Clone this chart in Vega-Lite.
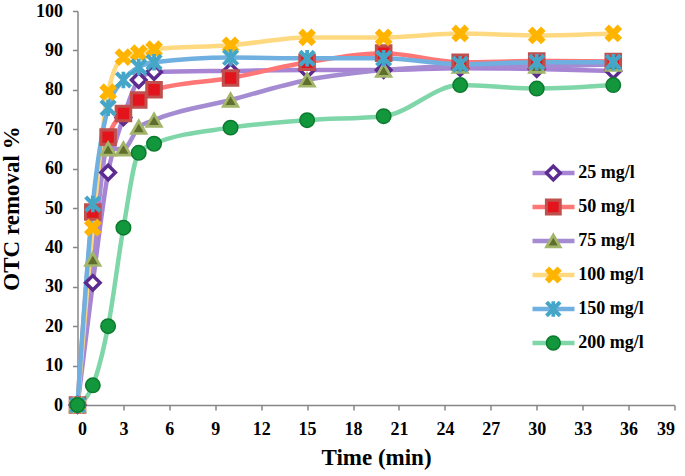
{
  "$schema": "https://vega.github.io/schema/vega-lite/v6.json",
  "width": 597,
  "height": 394,
  "autosize": {"type": "none"},
  "padding": {"left": 77.5, "top": 11, "right": 10.5, "bottom": 71},
  "background": "white",
  "config": {
    "view": {"stroke": null},
    "font": "Liberation Serif",
    "axis": {
      "labelFont": "Liberation Serif",
      "labelFontWeight": "bold",
      "labelFontSize": 18,
      "labelColor": "black",
      "titleFont": "Liberation Serif",
      "titleFontWeight": "bold",
      "titleFontSize": 23,
      "titleColor": "black",
      "grid": false,
      "domainColor": "#868686",
      "domainWidth": 1.5,
      "tickColor": "#868686",
      "tickWidth": 1.5,
      "tickSize": 5
    },
    "legend": {
      "labelFont": "Liberation Serif",
      "labelFontWeight": "bold",
      "labelFontSize": 18,
      "labelColor": "black"
    }
  },
  "data": {
    "values": [
      {"s": "25 mg/l", "t": 0, "v": 0}, {"s": "25 mg/l", "t": 1, "v": 31}, {"s": "25 mg/l", "t": 2, "v": 59}, {"s": "25 mg/l", "t": 3, "v": 73}, {"s": "25 mg/l", "t": 4, "v": 82.5}, {"s": "25 mg/l", "t": 5, "v": 84.5}, {"s": "25 mg/l", "t": 10, "v": 84.8}, {"s": "25 mg/l", "t": 15, "v": 85}, {"s": "25 mg/l", "t": 20, "v": 85}, {"s": "25 mg/l", "t": 25, "v": 85.5}, {"s": "25 mg/l", "t": 30, "v": 85.3}, {"s": "25 mg/l", "t": 35, "v": 84.8},
      {"s": "50 mg/l", "t": 0, "v": 0}, {"s": "50 mg/l", "t": 1, "v": 49}, {"s": "50 mg/l", "t": 2, "v": 68}, {"s": "50 mg/l", "t": 3, "v": 74}, {"s": "50 mg/l", "t": 4, "v": 77.4}, {"s": "50 mg/l", "t": 5, "v": 80}, {"s": "50 mg/l", "t": 10, "v": 83}, {"s": "50 mg/l", "t": 15, "v": 87}, {"s": "50 mg/l", "t": 20, "v": 89.3}, {"s": "50 mg/l", "t": 25, "v": 87}, {"s": "50 mg/l", "t": 30, "v": 87.3}, {"s": "50 mg/l", "t": 35, "v": 87.2},
      {"s": "75 mg/l", "t": 0, "v": 0}, {"s": "75 mg/l", "t": 1, "v": 37}, {"s": "75 mg/l", "t": 2, "v": 65}, {"s": "75 mg/l", "t": 3, "v": 65}, {"s": "75 mg/l", "t": 4, "v": 70.5}, {"s": "75 mg/l", "t": 5, "v": 72.3}, {"s": "75 mg/l", "t": 10, "v": 77.4}, {"s": "75 mg/l", "t": 15, "v": 82.5}, {"s": "75 mg/l", "t": 20, "v": 85}, {"s": "75 mg/l", "t": 25, "v": 86}, {"s": "75 mg/l", "t": 30, "v": 86}, {"s": "75 mg/l", "t": 35, "v": 86.5},
      {"s": "100 mg/l", "t": 0, "v": 0}, {"s": "100 mg/l", "t": 1, "v": 45}, {"s": "100 mg/l", "t": 2, "v": 79.4}, {"s": "100 mg/l", "t": 3, "v": 88.3}, {"s": "100 mg/l", "t": 4, "v": 89.3}, {"s": "100 mg/l", "t": 5, "v": 90.3}, {"s": "100 mg/l", "t": 10, "v": 91.3}, {"s": "100 mg/l", "t": 15, "v": 93.3}, {"s": "100 mg/l", "t": 20, "v": 93.3}, {"s": "100 mg/l", "t": 25, "v": 94.3}, {"s": "100 mg/l", "t": 30, "v": 93.8}, {"s": "100 mg/l", "t": 35, "v": 94.3},
      {"s": "150 mg/l", "t": 0, "v": 0}, {"s": "150 mg/l", "t": 1, "v": 51}, {"s": "150 mg/l", "t": 2, "v": 75.4}, {"s": "150 mg/l", "t": 3, "v": 82.5}, {"s": "150 mg/l", "t": 4, "v": 85.8}, {"s": "150 mg/l", "t": 5, "v": 87}, {"s": "150 mg/l", "t": 10, "v": 88.2}, {"s": "150 mg/l", "t": 15, "v": 88}, {"s": "150 mg/l", "t": 20, "v": 88}, {"s": "150 mg/l", "t": 25, "v": 86.5}, {"s": "150 mg/l", "t": 30, "v": 87}, {"s": "150 mg/l", "t": 35, "v": 87},
      {"s": "200 mg/l", "t": 0, "v": 0}, {"s": "200 mg/l", "t": 1, "v": 5}, {"s": "200 mg/l", "t": 2, "v": 20}, {"s": "200 mg/l", "t": 3, "v": 45}, {"s": "200 mg/l", "t": 4, "v": 64}, {"s": "200 mg/l", "t": 5, "v": 66.3}, {"s": "200 mg/l", "t": 10, "v": 70.4}, {"s": "200 mg/l", "t": 15, "v": 72.3}, {"s": "200 mg/l", "t": 20, "v": 73.3}, {"s": "200 mg/l", "t": 25, "v": 81.2}, {"s": "200 mg/l", "t": 30, "v": 80.3}, {"s": "200 mg/l", "t": 35, "v": 81.2}
    ]
  },
  "encoding": {
    "x": {
      "field": "t", "type": "quantitative",
      "scale": {"domain": [0, 39], "nice": false, "zero": true},
      "axis": {"values": [0, 3, 6, 9, 12, 15, 18, 21, 24, 27, 30, 33, 36, 39], "title": "Time (min)", "labelPadding": 10, "titlePadding": 8}
    },
    "y": {
      "field": "v", "type": "quantitative",
      "scale": {"domain": [0, 100], "nice": false},
      "axis": {"values": [0, 10, 20, 30, 40, 50, 60, 70, 80, 90, 100], "title": "OTC removal %", "labelPadding": 10, "titlePadding": 12}
    }
  },
  "layer": [
    {
      "mark": {"type": "line", "interpolate": "monotone", "strokeWidth": 4.5, "strokeCap": "round"},
      "encoding": {
        "color": {
          "field": "s", "type": "nominal",
          "sort": ["25 mg/l", "50 mg/l", "75 mg/l", "100 mg/l", "150 mg/l", "200 mg/l"],
          "scale": {"range": ["#a784d4", "#ff7676", "#a58cd2", "#ffd97f", "#6fb0e0", "#7fd6a8"]},
          "legend": {"title": null, "orient": "none", "legendX": 452.5, "legendY": 145, "padding": 0, "symbolType": "stroke", "symbolSize": 1764, "symbolStrokeWidth": 4.5, "clipHeight": 34, "rowPadding": 0, "labelExpr": "''"}
        }
      }
    },
    {
      "mark": {"type": "point", "filled": true, "size": 210, "opacity": 1},
      "encoding": {
        "shape": {
          "field": "s", "type": "nominal",
          "scale": {"domain": ["25 mg/l", "50 mg/l", "75 mg/l", "100 mg/l", "150 mg/l", "200 mg/l"], "range": ["diamond", "square", "triangle-up", "M-1,-0.6L-0.6,-1L0,-0.4L0.6,-1L1,-0.6L0.4,0L1,0.6L0.6,1L0,0.4L-0.6,1L-1,0.6L-0.4,0Z", "M-1,-0.78L-0.78,-1L0,-0.22L0.78,-1L1,-0.78L0.22,0L1,0.78L0.78,1L0,0.22L-0.78,1L-1,0.78L-0.22,0ZM-0.13,-1L0.13,-1L0.13,1L-0.13,1Z", "circle"]},
          "legend": {"title": null, "orient": "none", "legendX": 466.8, "legendY": 145, "padding": 0, "symbolSize": 190, "clipHeight": 34, "rowPadding": 0, "labelOffset": 16}
        },
        "fill": {
          "field": "s", "type": "nominal",
          "scale": {"domain": ["25 mg/l", "50 mg/l", "75 mg/l", "100 mg/l", "150 mg/l", "200 mg/l"], "range": ["#ffffff", "#e3141c", "#5f6e2c", "#ffb400", "#45a6c8", "#13973d"]},
          "legend": {"title": null, "orient": "none", "legendX": 466.8, "legendY": 145, "padding": 0, "symbolSize": 190, "clipHeight": 34, "rowPadding": 0, "labelOffset": 16}
        },
        "stroke": {
          "field": "s", "type": "nominal",
          "scale": {"domain": ["25 mg/l", "50 mg/l", "75 mg/l", "100 mg/l", "150 mg/l", "200 mg/l"], "range": ["#5b2b8f", "#c0504d", "#a3b56a", "#ffb400", "#45a6c8", "#0c7a2e"]},
          "legend": {"title": null, "orient": "none", "legendX": 466.8, "legendY": 145, "padding": 0, "symbolSize": 190, "clipHeight": 34, "rowPadding": 0, "labelOffset": 16}
        },
        "strokeWidth": {
          "field": "s", "type": "nominal",
          "scale": {"domain": ["25 mg/l", "50 mg/l", "75 mg/l", "100 mg/l", "150 mg/l", "200 mg/l"], "range": [3.5, 1.5, 1.5, 0.5, 0.5, 1]},
          "legend": {"title": null, "orient": "none", "legendX": 466.8, "legendY": 145, "padding": 0, "symbolSize": 190, "clipHeight": 34, "rowPadding": 0, "labelOffset": 16}
        }
      }
    }
  ]
}
